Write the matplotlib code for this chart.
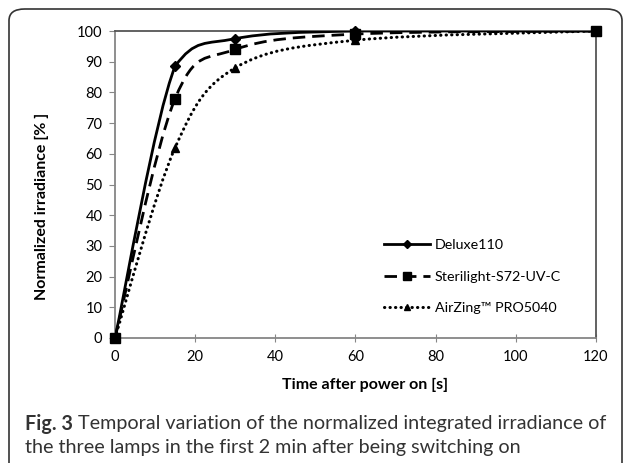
import numpy as np
import matplotlib
matplotlib.use("Agg")
import matplotlib.pyplot as plt
from matplotlib.path import Path
from matplotlib.patches import PathPatch, FancyBboxPatch
from matplotlib.lines import Line2D

# data
time_s = [0, 15, 30, 60, 120]
deluxe = [0, 88.5, 97.5, 100, 100]
sterilight = [0, 78, 94, 99, 100]
airzing = [0, 62, 88, 97, 100]
names = ["Deluxe110", "Sterilight-S72-UV-C", "AirZing\u2122 PRO5040"]

plt.rcParams["font.family"] = ["Lato", "DejaVu Sans"]


def smooth_path(x, y):
    # smoothed line like Excel: Catmull-Rom segments as cubic Beziers,
    # control points kept inside each segment's y range (no overshoot)
    pts = np.column_stack([x, y]).astype(float)
    ext = np.vstack([pts[0], pts, pts[-1]])
    verts = [pts[0]]
    codes = [Path.MOVETO]
    for i in range(1, len(ext) - 2):
        p0, p1, p2, p3 = ext[i - 1], ext[i], ext[i + 1], ext[i + 2]
        c1 = p1 + (p2 - p0) / 6
        c2 = p2 - (p3 - p1) / 6
        lo, hi = min(p1[1], p2[1]), max(p1[1], p2[1])
        c1[1] = np.clip(c1[1], lo, hi)
        c2[1] = np.clip(c2[1], lo, hi)
        verts += [c1, c2, p2]
        codes += [Path.CURVE4] * 3
    return Path(verts, codes)


fig = plt.figure(figsize=(6.3, 4.63), dpi=100)
ax = fig.add_axes([0.1825, 0.270, 0.7635, 0.663])

styles = [
    dict(ls="-", lw=2.0, marker="D", ms=5, cap="butt"),
    dict(ls=(0, (4.5, 2.5)), lw=2.0, marker="s", ms=6.5, cap="butt"),
    dict(ls=(0, (0.1, 1.7)), lw=2.2, marker="^", ms=6, cap="round"),
]
handles = []
for ys, st in zip([deluxe, sterilight, airzing], styles):
    patch = PathPatch(smooth_path(time_s, ys), fill=False, edgecolor="black",
                      lw=st["lw"], ls=st["ls"], capstyle=st["cap"], zorder=3)
    ax.add_patch(patch)
    ax.plot(time_s, ys, ls="none", marker=st["marker"], ms=st["ms"],
            color="black", zorder=4, clip_on=False)
    handles.append(Line2D([], [], color="black", ls=st["ls"], lw=st["lw"],
                          marker=st["marker"], ms=st["ms"] - 1,
                          dash_capstyle=st["cap"]))

ax.set_xlim(0, 120)
ax.set_ylim(0, 100)
ax.set_xticks(range(0, 121, 20))
ax.set_yticks(range(0, 101, 10))
ax.tick_params(axis="both", labelsize=10.5, color="#868686", length=4,
               labelcolor="black")
ax.tick_params(axis="x", direction="inout", length=6, pad=6)
ax.tick_params(axis="y", direction="out", pad=5)
for side in ["left", "bottom"]:
    ax.spines[side].set_color("#868686")
    ax.spines[side].set_linewidth(1.3)
for side in ["right", "top"]:
    ax.spines[side].set_color("#555555")
    ax.spines[side].set_linewidth(1.3)

ax.set_xlabel("Time after power on [s]", fontsize=11.5, fontweight="bold")
ax.set_ylabel("Normalized irradiance [% ]", fontsize=11.5, fontweight="bold")
ax.xaxis.set_label_coords(0.52, -0.13)
ax.yaxis.set_label_coords(-0.137, 0.43)

ax.legend(handles, names, loc="center left", bbox_to_anchor=(0.545, 0.2),
          frameon=False, fontsize=10.3, handlelength=3.2,
          labelspacing=1.35, handletextpad=0.35, borderpad=0)

# rounded outer frame, open at the bottom
box = FancyBboxPatch((9 / 630, -0.05), 613 / 630, 1.05 - 9 / 463,
                     boxstyle="round,pad=0,rounding_size=0.025",
                     transform=fig.transFigure, fill=False,
                     edgecolor="#333333", lw=1.2, clip_on=False)
fig.patches.append(box)

cap_size = 14.2
t1 = fig.text(25 / 630, 1 - 424 / 463, "Fig. 3", fontsize=cap_size,
              fontweight="bold", color="#333333", va="center", ha="left")
renderer = fig.canvas.get_renderer()
bb = t1.get_window_extent(renderer)
fig.text((bb.x1 + 5) / 630, 1 - 424 / 463,
         "Temporal variation of the normalized integrated irradiance of",
         fontsize=cap_size, color="#333333", va="center", ha="left")
fig.text(25 / 630, 1 - 447 / 463,
         "the three lamps in the first 2 min after being switching on",
         fontsize=cap_size, color="#333333", va="center", ha="left")

fig.savefig("out.png", dpi=100)
